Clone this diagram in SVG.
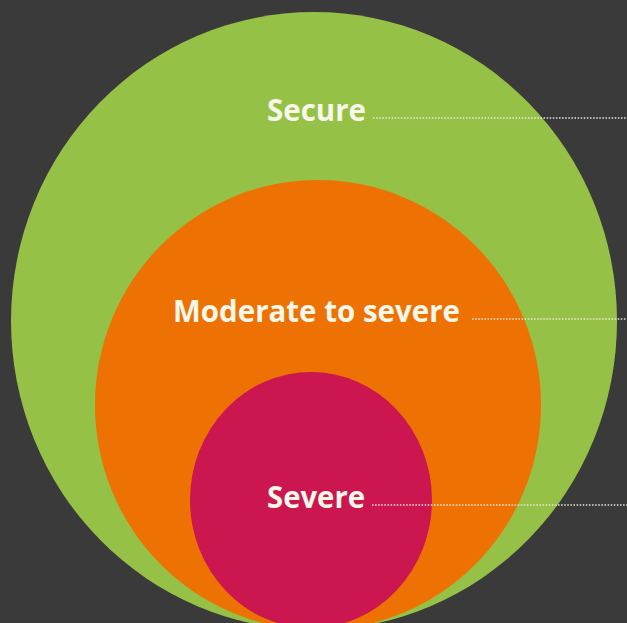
<svg xmlns="http://www.w3.org/2000/svg" width="627" height="623" viewBox="0 0 627 623">
<style>
.lbl{font-family:"Open Sans","DejaVu Sans",sans-serif;font-weight:700;font-size:31px;fill:#f7f7ea}
.lead{stroke:#e8e8dc;stroke-width:1.5;stroke-dasharray:1.5 1.6;fill:none}
</style>
<rect width="627" height="623" fill="#3a3a3a"/>
<g id="secure"><ellipse cx="314" cy="321" rx="303" ry="309" fill="#95c147"/></g>
<g id="moderate"><ellipse cx="318" cy="405" rx="223" ry="225" fill="#ee7203"/></g>
<g id="severe"><ellipse cx="311" cy="500" rx="121" ry="128" fill="#cc1650"/></g>
<g id="connectors">
<line class="lead" x1="373" y1="118" x2="627" y2="118"/>
<line class="lead" x1="472" y1="319" x2="627" y2="319"/>
<line class="lead" x1="372" y1="505" x2="627" y2="505"/>
</g>
<g id="labels">
<text class="lbl" x="267" y="121" textLength="99" lengthAdjust="spacingAndGlyphs">Secure</text>
<text class="lbl" x="173" y="322" textLength="287" lengthAdjust="spacingAndGlyphs">Moderate to severe</text>
<text class="lbl" x="267" y="508" textLength="98" lengthAdjust="spacingAndGlyphs">Severe</text>
</g>
</svg>
